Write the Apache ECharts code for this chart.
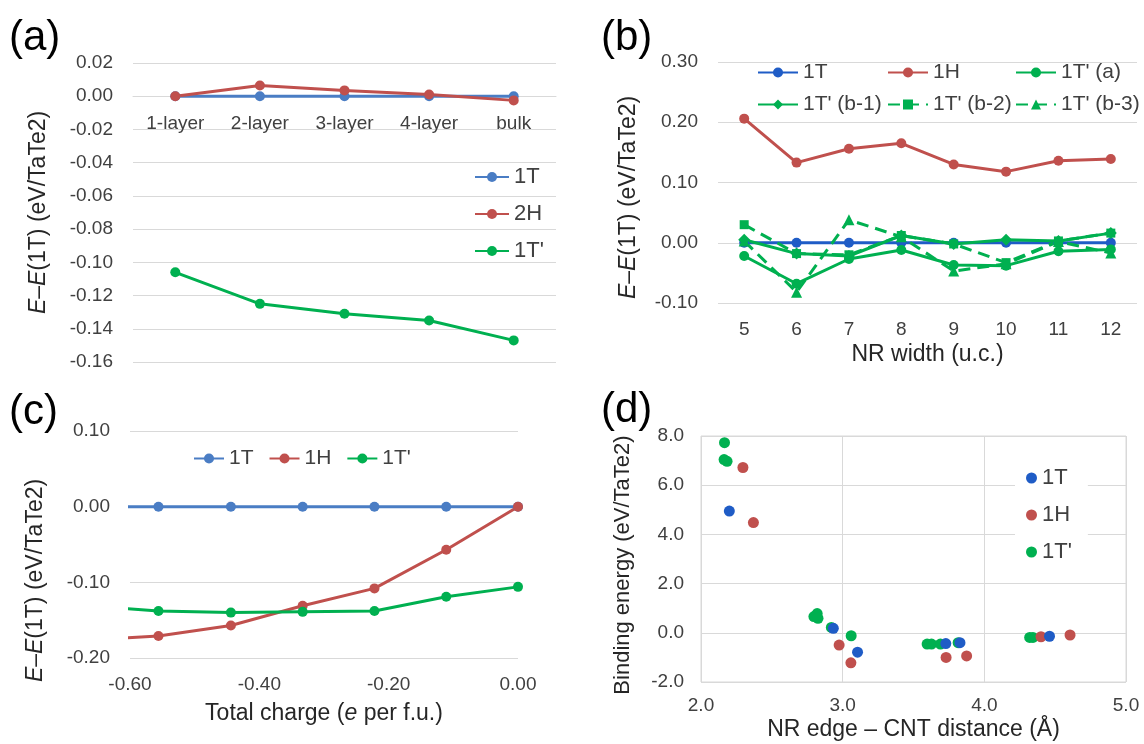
<!DOCTYPE html>
<html>
<head>
<meta charset="utf-8">
<script src="https://cdn.jsdelivr.net/npm/echarts@6/dist/echarts.min.js"></script>
<style>
  html, body { margin: 0; padding: 0; background: #fff; }
  #chart { width: 1144px; height: 744px; }
</style>
</head>
<body>
<div id="chart"></div>
<script>
// (a) energy vs number of layers
const layerLabels = ['1-layer', '2-layer', '3-layer', '4-layer', 'bulk'];
const layer1T = [0, 0, 0, 0, 0];
const layer2H = [0, 0.0065, 0.0035, 0.001, -0.0025];
const layer1Tp = [-0.106, -0.125, -0.131, -0.135, -0.147];

// (b) energy vs nanoribbon width
const widthLabels = ['5', '6', '7', '8', '9', '10', '11', '12'];
const nr1T = [0, 0, 0, 0, 0, 0, 0, 0];
const nr1H = [0.206, 0.133, 0.156, 0.165, 0.130, 0.118, 0.136, 0.139];
const nr1TpA = [-0.022, -0.068, -0.027, -0.012, -0.037, -0.038, -0.014, -0.011];
const nr1TpB1 = [0.005, -0.018, -0.022, 0.012, -0.002, 0.005, 0.003, 0.016];
const nr1TpB2 = [0.030, -0.018, -0.020, 0.012, -0.002, -0.033, 0.003, 0.016];
const nr1TpB3 = [0.003, -0.082, 0.038, 0.010, -0.047, -0.035, 0.002, -0.017];

// (c) energy vs total charge
const charge = [-0.667, -0.556, -0.444, -0.333, -0.222, -0.111, 0];
const ch1T = [0, 0, 0, 0, 0, 0, 0];
const ch1H = [-0.176, -0.171, -0.157, -0.131, -0.108, -0.057, 0];
const ch1Tp = [-0.131, -0.138, -0.140, -0.139, -0.138, -0.119, -0.106];

// (d) binding energy vs edge-CNT distance, [distance, energy]
const bind1T = [[2.20, 4.95], [2.934, 0.18], [3.105, -0.79], [3.728, -0.44], [3.828, -0.40], [4.46, -0.14]];
const bind1H = [[2.296, 6.72], [2.37, 4.48], [2.975, -0.50], [3.058, -1.22], [3.73, -1.0], [3.875, -0.94], [4.40, -0.16], [4.605, -0.09]];
const bind1Tp = [[2.166, 7.73], [2.163, 7.04], [2.184, 6.97], [2.797, 0.66], [2.82, 0.78], [2.826, 0.59], [2.92, 0.22],
  [3.06, -0.12], [3.596, -0.46], [3.627, -0.46], [3.69, -0.46], [3.815, -0.40], [4.32, -0.19], [4.343, -0.19]];

const FONT = '"Liberation Sans", Arial, sans-serif';
const BLUE = '#4a7dc4';
const BLUE2 = '#1f5cc6';
const RED = '#c0504d';
const GREEN = '#00b050';
const GRID = '#d9d9d9';
const TXT = '#404040';

const chart = echarts.init(document.getElementById('chart'));

const fmt = (d) => (v) => (Math.abs(v) < 1e-9 ? 0 : v).toFixed(d);
const tick = { color: TXT, fontSize: 19, fontFamily: FONT };
const makeName = (size) => ({
  color: '#262626', fontSize: size, fontFamily: FONT,
  rich: { i: { fontStyle: 'italic', fontSize: size, fontFamily: FONT, color: '#262626' } }
});
const nameStyle = makeName(23);
const yName = '{i|E}\u2013{i|E}(1T) (eV/TaTe2)';
const legendText = { color: TXT, fontSize: 21, fontFamily: FONT };
const dropPrefix = (name) => name.slice(1);

function lineSeries(name, xi, data, color, symbol, size, dashed) {
  return {
    type: 'line', name: name, xAxisIndex: xi, yAxisIndex: xi, data: data,
    symbol: symbol, symbolSize: size,
    lineStyle: { width: 3, color: color, type: dashed ? [12, 7] : 'solid' },
    itemStyle: { color: color }
  };
}

function panelLabel(text, left, top) {
  return { type: 'text', left: left, top: top, style: { text: text, fontSize: 42, fontFamily: FONT, fill: '#000' } };
}

const option = {
  animation: false,
  backgroundColor: '#fff',
  graphic: [
    panelLabel('(a)', 9, 17),
    panelLabel('(b)', 601, 17),
    panelLabel('(c)', 9, 391),
    panelLabel('(d)', 601, 389)
  ],
  grid: [
    { left: 133, right: 588, top: 63, bottom: 382 },
    { left: 718, right: 7, top: 62, bottom: 441 },
    { left: 130, right: 626, top: 431, bottom: 86 },
    { left: 701, right: 18, top: 436, bottom: 62, show: true, borderColor: GRID, borderWidth: 1 }
  ],
  legend: [
    {
      data: ['a1T', 'a2H', "a1T'"], orient: 'vertical', left: 474, top: 166, padding: 0,
      itemWidth: 34, itemHeight: 12.5, itemGap: 15, selectedMode: false,
      formatter: dropPrefix, textStyle: Object.assign({}, legendText, { fontSize: 22 })
    },
    {
      data: ['b1T', "b1T' (b-1)"], orient: 'vertical', left: 757, top: 62, padding: 0,
      itemWidth: 40, itemHeight: 12.5, itemGap: 11, selectedMode: false,
      formatter: dropPrefix, textStyle: legendText
    },
    {
      data: ['b1H', "b1T' (b-2)"], orient: 'vertical', left: 887, top: 62, padding: 0,
      itemWidth: 40, itemHeight: 12.5, itemGap: 11, selectedMode: false,
      formatter: dropPrefix, textStyle: legendText
    },
    {
      data: ["b1T' (a)", "b1T' (b-3)"], orient: 'vertical', left: 1015, top: 62, padding: 0,
      itemWidth: 40, itemHeight: 12.5, itemGap: 11, selectedMode: false,
      formatter: dropPrefix, textStyle: legendText
    },
    {
      data: ['c1T', 'c1H', "c1T'"], orient: 'horizontal', left: 193, top: 448, padding: 0,
      itemWidth: 30, itemHeight: 12.5, itemGap: 15, selectedMode: false,
      formatter: dropPrefix, textStyle: legendText
    },
    {
      data: ['d1T', 'd1H', "d1T'"], orient: 'vertical', left: 1015, top: 459, padding: [8, 16, 8, 11],
      itemWidth: 11, itemHeight: 11, itemGap: 15, selectedMode: false, backgroundColor: '#fff',
      formatter: dropPrefix, textStyle: Object.assign({}, legendText, { fontSize: 22 })
    }
  ],
  xAxis: [
    {
      // category labels sit just under the 0.00 line
      gridIndex: 0, type: 'category', data: layerLabels, offset: -266,
      axisLine: { show: true, onZero: false, lineStyle: { color: GRID, width: 1 } }, axisTick: { show: false },
      axisLabel: Object.assign({ margin: 18 }, tick), splitLine: { show: false }
    },
    {
      gridIndex: 1, type: 'category', data: widthLabels,
      axisLine: { show: false, onZero: false }, axisTick: { show: false },
      axisLabel: Object.assign({ margin: 17 }, tick), splitLine: { show: false },
      name: 'NR width (u.c.)', nameLocation: 'middle', nameGap: 40, nameTextStyle: nameStyle
    },
    {
      gridIndex: 2, type: 'value', min: -0.6, max: 0, interval: 0.2,
      axisLine: { show: false, onZero: false }, axisTick: { show: false },
      axisLabel: Object.assign({ margin: 17, formatter: fmt(2) }, tick), splitLine: { show: false },
      name: 'Total charge ({i|e} per f.u.)', nameLocation: 'middle', nameGap: 44, nameTextStyle: nameStyle
    },
    {
      gridIndex: 3, type: 'value', min: 2, max: 5, interval: 1,
      axisLine: { show: false, onZero: false }, axisTick: { show: false },
      axisLabel: Object.assign({ margin: 14, formatter: fmt(1) }, tick),
      splitLine: { show: true, lineStyle: { color: GRID, width: 1 } },
      name: 'NR edge \u2013 CNT distance (\u00c5)', nameLocation: 'middle', nameGap: 36, nameTextStyle: nameStyle
    }
  ],
  yAxis: [
    {
      gridIndex: 0, type: 'value', min: -0.16, max: 0.02, interval: 0.02,
      axisLine: { show: false }, axisTick: { show: false },
      axisLabel: Object.assign({ margin: 20, formatter: fmt(2) }, tick),
      splitLine: { lineStyle: { color: GRID, width: 1 } },
      name: yName, nameLocation: 'middle', nameGap: 83, nameTextStyle: nameStyle
    },
    {
      gridIndex: 1, type: 'value', min: -0.1, max: 0.3, interval: 0.1,
      axisLine: { show: false }, axisTick: { show: false },
      axisLabel: Object.assign({ margin: 20, formatter: fmt(2) }, tick),
      splitLine: { lineStyle: { color: GRID, width: 1 } },
      name: yName, nameLocation: 'middle', nameGap: 78,
      nameTextStyle: Object.assign({ padding: [0, 30, 0, 0] }, nameStyle)
    },
    {
      gridIndex: 2, type: 'value', min: -0.2, max: 0.1, interval: 0.1,
      axisLine: { show: false, onZero: false }, axisTick: { show: false },
      axisLabel: Object.assign({ margin: 20, formatter: fmt(2) }, tick),
      splitLine: { lineStyle: { color: GRID, width: 1 } },
      name: yName, nameLocation: 'middle', nameGap: 83,
      nameTextStyle: Object.assign({ padding: [0, 72, 0, 0] }, nameStyle)
    },
    {
      gridIndex: 3, type: 'value', min: -2, max: 8, interval: 2,
      axisLine: { show: false, onZero: false }, axisTick: { show: false },
      axisLabel: Object.assign({ margin: 17, formatter: fmt(1) }, tick),
      splitLine: { lineStyle: { color: GRID, width: 1 } },
      name: 'Binding energy (eV/TaTe2)', nameLocation: 'middle', nameGap: 67,
      nameTextStyle: Object.assign({ padding: [0, 12, 0, 0] }, makeName(22))
    }
  ],
  series: [
    lineSeries('a1T', 0, layer1T, BLUE, 'circle', 10),
    lineSeries('a2H', 0, layer2H, RED, 'circle', 10),
    lineSeries("a1T'", 0, layer1Tp, GREEN, 'circle', 10),

    lineSeries('b1T', 1, nr1T, BLUE2, 'circle', 10),
    lineSeries('b1H', 1, nr1H, RED, 'circle', 10),
    lineSeries("b1T' (a)", 1, nr1TpA, GREEN, 'circle', 10),
    lineSeries("b1T' (b-1)", 1, nr1TpB1, GREEN, 'diamond', 12),
    lineSeries("b1T' (b-2)", 1, nr1TpB2, GREEN, 'rect', 9, true),
    lineSeries("b1T' (b-3)", 1, nr1TpB3, GREEN, 'triangle', 11, true),

    lineSeries('c1T', 2, charge.map((c, i) => [c, ch1T[i]]), BLUE, 'circle', 10),
    lineSeries('c1H', 2, charge.map((c, i) => [c, ch1H[i]]), RED, 'circle', 10),
    lineSeries("c1T'", 2, charge.map((c, i) => [c, ch1Tp[i]]), GREEN, 'circle', 10),

    { type: 'scatter', name: "d1T'", xAxisIndex: 3, yAxisIndex: 3, data: bind1Tp, symbolSize: 11, itemStyle: { color: GREEN, opacity: 1 } },
    { type: 'scatter', name: 'd1H', xAxisIndex: 3, yAxisIndex: 3, data: bind1H, symbolSize: 11, itemStyle: { color: RED, opacity: 1 } },
    { type: 'scatter', name: 'd1T', xAxisIndex: 3, yAxisIndex: 3, data: bind1T, symbolSize: 11, itemStyle: { color: BLUE2, opacity: 1 } }
  ]
};

chart.setOption(option);
</script>
</body>
</html>
